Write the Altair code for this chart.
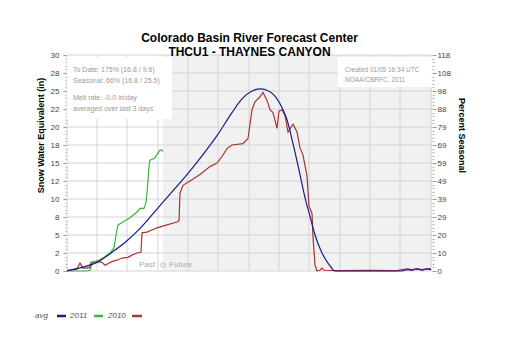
import json
import altair as alt
import pandas as pd

FONT = "Liberation Sans"

# ---------------- data ----------------
tick_days = [0, 30, 60, 91, 121, 151, 182, 212, 242, 273, 303, 333, 364]
tick_labels = ["10-01", "10-31", "11-30", "12-31", "01-30", "03-01", "04-01",
               "05-01", "05-31", "07-01", "07-31", "08-30", "09-30"]

y_ticks = [0, 2.5, 5, 7.5, 10, 12.5, 15, 17.5, 20, 22.5, 25, 27.5, 30]
swe_labels = ["0", "2", "5", "8", "10", "12", "15", "18", "20", "22", "25", "28", "30"]
pct_labels = ["0", "10", "20", "29", "39", "49", "59", "69", "79", "88", "98", "108", "118"]
minor_ticks = [v / 2 for v in range(0, 61) if v % 5 != 0]

avg_days = [0, 15, 30, 45, 60, 75, 90, 105, 120, 135, 150, 165, 175, 185, 193, 200,
            208, 215, 220, 226, 233, 238, 243, 248, 255, 262, 268, 335, 340, 345, 350, 355, 360, 364]
avg_swe = [0.0, 0.5, 1.2, 2.6, 4.2, 6.2, 8.6, 11.0, 13.4, 16.0, 18.8, 22.0, 23.9, 25.0, 25.3, 25.1,
           24.3, 22.7, 21.0, 17.7, 13.4, 10.2, 7.6, 5.0, 2.5, 0.9, 0.0, 0.0, 0.2, 0.1, 0.3, 0.1, 0.3, 0.2]

prev_days = [0, 5, 10, 13, 16, 20, 23, 24, 30, 35, 38, 45, 50, 55, 61, 65, 70, 74, 75, 80,
             90, 100, 110, 112, 113, 116, 123, 133, 143, 150, 155, 160, 165, 176, 181, 185, 188, 193, 196, 200,
             203, 206, 210, 212, 215, 218, 221, 226, 230, 233, 236, 240, 242, 245, 246, 248, 250, 253, 255, 257,
             270, 300, 330, 335, 340, 345, 350, 355, 360, 364]
prev_swe = [0.1, 0.2, 0.3, 1.1, 0.4, 0.4, 0.5, 1.2, 1.3, 1.2, 0.8, 1.3, 1.5, 1.8, 1.9, 2.2, 2.5, 2.6, 5.3, 5.4,
            6.0, 6.4, 6.8, 7.0, 10.8, 11.9, 12.5, 13.4, 14.5, 15.0, 15.9, 17.0, 17.5, 17.7, 18.4, 22.4, 23.5, 24.2, 24.8, 23.7,
            22.4, 22.0, 19.8, 22.2, 22.4, 21.6, 19.3, 20.4, 19.3, 17.1, 16.1, 13.2, 9.0, 8.0, 4.7, 0.8, 0.0, 0.1, 0.4, 0.1,
            0.05, 0.1, 0.05, 0.2, 0.3, 0.2, 0.3, 0.2, 0.3, 0.3]

cur_days = [0, 10, 20, 23, 25, 26, 30, 36, 43, 47, 49, 51, 56, 63, 70, 73, 77, 79, 80, 82,
            83, 88, 90, 91, 93, 95, 96]
cur_swe = [0.0, 0.0, 0.0, 0.1, 1.0, 1.2, 1.4, 1.8, 2.5, 3.2, 5.0, 6.4, 6.8, 7.4, 8.2, 8.7, 8.7, 9.5, 10.8, 14.5,
           15.4, 15.7, 16.2, 16.4, 16.8, 16.8, 16.6]

past_end_day = 96
series_names = ["avg", "2011", "2010"]
series_colors = ["#1c1c84", "#3cb43c", "#a83434"]

info_left = ["To Date: 175% (16.8 / 9.6)", "Seasonal: 66% (16.8 / 25.5)",
             "Melt rate: -0.0 in/day", "averaged over last 3 days"]
info_right = ["Created 01/05 16:34 UTC", "NOAA/CBRFC, 2011"]

# ---------------- layout ----------------
W, H = 365, 216
x_scale = alt.Scale(domain=[0, 365], nice=False, zero=False)
y_scale = alt.Scale(domain=[0, 30], nice=False, zero=False)
color_scale = alt.Scale(domain=series_names, range=series_colors)

avg_df = pd.DataFrame({"series": "avg", "day": avg_days, "swe": avg_swe})
obs_df = pd.concat([
    pd.DataFrame({"series": "2010", "day": prev_days, "swe": prev_swe}),
    pd.DataFrame({"series": "2011", "day": cur_days, "swe": cur_swe}),
], ignore_index=True)

x_label_expr = f"{json.dumps(tick_labels)}[indexof({json.dumps(tick_days)}, datum.value)]"
swe_label_expr = f"{json.dumps(swe_labels)}[round(datum.value / 2.5)]"
pct_label_expr = f"{json.dumps(pct_labels)}[round(datum.value / 2.5)]"

one = pd.DataFrame({"k": [0]})

# future shading
bg = alt.Chart(pd.DataFrame({"start": [past_end_day], "end": [365]})).mark_rect(color="#f1f1f1").encode(
    x=alt.X("start:Q", scale=x_scale, axis=None), x2="end:Q",
    y=alt.value(0), y2=alt.value(H))

# vertical grid + x axis
vgrid = alt.Chart(pd.DataFrame({"day": tick_days})).mark_rule(color="#d4d4d4", strokeWidth=1).encode(
    x=alt.X("day:Q", scale=x_scale, axis=alt.Axis(
        values=tick_days, labelExpr=x_label_expr, grid=False, domain=False, ticks=False,
        labelPadding=2, labelOffset=9, labelOverlap=False, labelFont=FONT, labelFontSize=8,
        labelColor="#444", title="Date", titleFont=FONT, titleFontSize=9, titleFontWeight="bold",
        titleColor="black", titleY=29, titleBaseline="middle")),
    y=alt.value(0), y2=alt.value(H))

# horizontal grid + left axis
hgrid = alt.Chart(pd.DataFrame({"v": y_ticks})).mark_rule(color="#d4d4d4", strokeWidth=1).encode(
    y=alt.Y("v:Q", scale=y_scale, axis=alt.Axis(
        orient="left", values=y_ticks, labelExpr=swe_label_expr, grid=False, domain=False,
        tickSize=4, tickColor="#9a9a9a", labelPadding=4, labelFont=FONT, labelFontSize=8,
        labelColor="#444", labelOverlap=False,
        title="Snow Water Equivalent (in)", titleFont=FONT, titleFontSize=9, titleFontWeight="bold",
        titleColor="black", titleX=-27, titleY=80, titleAngle=-90, titleAlign="center",
        titleBaseline="middle")),
    x=alt.value(0), x2=alt.value(W))

minor_left = alt.Chart(pd.DataFrame({"v": minor_ticks})).mark_rule(strokeOpacity=0).encode(
    y=alt.Y("v:Q", scale=y_scale, axis=alt.Axis(
        orient="left", values=minor_ticks, labels=False, grid=False, domain=False,
        tickSize=2, tickColor="#b0b0b0", title=None)),
    x=alt.value(0), x2=alt.value(0))

minor_right = alt.Chart(pd.DataFrame({"v": minor_ticks})).mark_rule(strokeOpacity=0).encode(
    y=alt.Y("v:Q", scale=y_scale, axis=alt.Axis(
        orient="right", values=minor_ticks, labels=False, grid=False, domain=False,
        tickSize=2, tickColor="#b0b0b0", title=None)),
    x=alt.value(W), x2=alt.value(W))

# info boxes
box_left = alt.Chart(one).mark_rect(color="white").encode(
    x=alt.value(0), x2=alt.value(105), y=alt.value(2), y2=alt.value(64))
box_right = alt.Chart(one).mark_rect(color="white").encode(
    x=alt.value(271), x2=alt.value(W), y=alt.value(2), y2=alt.value(32))

# observed lines (2010, 2011)
obs_lines = alt.Chart(obs_df).mark_line(strokeWidth=1.2).encode(
    x=alt.X("day:Q", scale=x_scale, axis=None),
    y=alt.Y("swe:Q", scale=y_scale, axis=None),
    color=alt.Color("series:N", scale=color_scale, legend=None),
    detail="series:N",
)

# average line + right axis
avg_line = alt.Chart(avg_df).mark_line(strokeWidth=1.2, interpolate="monotone").encode(
    x=alt.X("day:Q", scale=x_scale, axis=None),
    y=alt.Y("swe:Q", scale=y_scale, axis=alt.Axis(
        orient="right", values=y_ticks, labelExpr=pct_label_expr, grid=False, domain=False,
        tickSize=4, tickColor="#9a9a9a", labelPadding=1, labelFont=FONT, labelFontSize=8,
        labelColor="#444", labelOverlap=False,
        title="Percent Seasonal", titleFont=FONT, titleFontSize=9, titleFontWeight="bold",
        titleColor="black", titleX=29, titleY=80, titleAngle=90, titleAlign="center",
        titleBaseline="middle")),
    color=alt.Color("series:N", scale=color_scale, legend=None),
)


def text_layer(txt, x, y, size=7, color="#9a9a9a", align="left", style="normal", weight="normal"):
    return alt.Chart(pd.DataFrame({"t": [txt]})).mark_text(
        align=align, baseline="middle", fontSize=size, color=color, font=FONT,
        fontStyle=style, fontWeight=weight).encode(
        text="t:N", x=alt.value(x), y=alt.value(y))


texts = []
for txt, yy in zip(info_left, [15, 26, 43, 54]):
    texts.append(text_layer(txt, 6, yy))
for txt, yy in zip(info_right, [15, 25]):
    texts.append(text_layer(txt, 278, yy, size=6.5))

# past / future marker
pf = pd.DataFrame({"day": [past_end_day]})
past_txt = alt.Chart(pf).mark_text(text="Past", align="right", baseline="middle", dx=-8,
                                   fontSize=8, color="#aaaaaa", font=FONT).encode(
    x=alt.X("day:Q", scale=x_scale, axis=None), y=alt.value(210))
fut_txt = alt.Chart(pf).mark_text(text="Future", align="left", baseline="middle", dx=6,
                                  fontSize=8, color="#aaaaaa", font=FONT).encode(
    x=alt.X("day:Q", scale=x_scale, axis=None), y=alt.value(210))
circ = alt.Chart(pf).mark_point(shape="circle", size=22, color="#aaaaaa", strokeWidth=1, filled=False).encode(
    x=alt.X("day:Q", scale=x_scale, axis=None), y=alt.value(210))
dot = alt.Chart(pf).mark_point(shape="circle", size=2, color="#aaaaaa", filled=True).encode(
    x=alt.X("day:Q", scale=x_scale, axis=None), y=alt.value(210))

# legend (label followed by line swatch)
leg = []
leg_text_x = [-32, 3, 41]
leg_line_x = [(-10, -1), (27, 36), (65, 75)]
for name, col, tx, (l0, l1) in zip(series_names, series_colors, leg_text_x, leg_line_x):
    leg.append(text_layer(name, tx, 261, size=8, color="#555555", style="italic"))
    leg.append(alt.Chart(one).mark_rule(color=col, strokeWidth=2.5).encode(
        x=alt.value(l0), x2=alt.value(l1), y=alt.value(261)))

chart = alt.layer(
    bg, vgrid, hgrid, minor_left, minor_right, box_left, box_right, obs_lines, avg_line,
    *texts, past_txt, fut_txt, circ, dot, *leg
).resolve_axis(y="independent").properties(
    width=W, height=H,
    padding={"left": 67, "top": 55, "right": 77, "bottom": 84},
    autosize=alt.AutoSizeParams(type="none"),
    background="white",
    title=alt.TitleParams(
        text="Colorado Basin River Forecast Center", subtitle="THCU1 - THAYNES CANYON",
        anchor="middle", font=FONT, fontSize=12, fontWeight="bold", color="black",
        subtitleFont=FONT, subtitleFontSize=12, subtitleFontWeight="bold", subtitleColor="black",
        offset=-8, subtitlePadding=2),
).configure_view(stroke=None)

chart.save("out.html", embed_options={"renderer": "svg", "actions": False})
